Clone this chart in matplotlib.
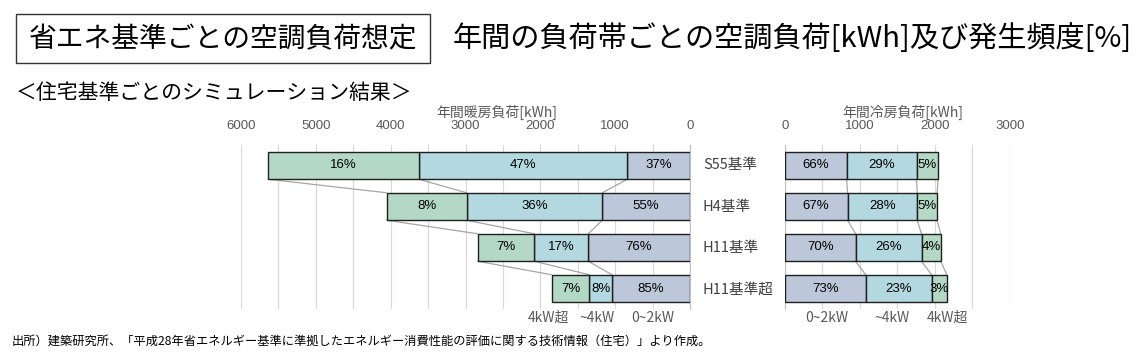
import numpy as np
import matplotlib
matplotlib.use('Agg')
import matplotlib.pyplot as plt
from matplotlib.patches import Rectangle

plt.rcParams['font.family'] = ['Noto Sans CJK JP', 'DejaVu Sans']

# data (kWh per load band, and frequency %)
categories = ['S55基準', 'H4基準', 'H11基準', 'H11基準超']
bands = ['0~2kW', '~4kW', '4kW超']

heat_low = [838, 1172, 1360, 1043]
heat_mid = [2785, 1813, 721, 303]
heat_high = [2015, 1070, 757, 503]
heat_pct_low = [37, 55, 76, 85]
heat_pct_mid = [47, 36, 17, 8]
heat_pct_high = [16, 8, 7, 7]

cool_low = [824, 838, 944, 1077]
cool_mid = [931, 926, 878, 878]
cool_high = [288, 265, 256, 203]
cool_pct_low = [66, 67, 70, 73]
cool_pct_mid = [29, 28, 26, 23]
cool_pct_high = [5, 5, 4, 3]

heat_ticks = [0, 1000, 2000, 3000, 4000, 5000, 6000]
cool_ticks = [0, 1000, 2000, 3000]

# colours
C_LOW = '#BCC8D9'
C_MID = '#B4D8E0'
C_HIGH = '#B3D8C6'
EDGE = '#1F1F1F'
GRID = '#D9D9D9'
LINK = '#A6A6A6'
TXT = '#595959'
W, H = 1145, 364
BAR_H = 0.67


def fx(px):
    return px / W


def fy(py):
    return 1 - py / H


def draw_panel(ax, series, pcts, colors, xmax, ticks):
    y = np.arange(len(categories))
    left = np.zeros(len(categories))
    bounds = []
    for vals, pc, col in zip(series, pcts, colors):
        vals = np.array(vals, dtype=float)
        ax.barh(y, vals, left=left, height=BAR_H, color=col,
                edgecolor=EDGE, linewidth=1.0, zorder=3)
        for yi, l, v, p in zip(y, left, vals, pc):
            ax.text(l + v / 2, yi, f'{p}%', ha='center', va='center',
                    fontsize=9.5, color='black', zorder=4,
                    family=['Liberation Sans Narrow', 'Liberation Sans', 'DejaVu Sans'])
        left = left + vals
        bounds.append(left.copy())
    # series lines between consecutive bars
    for b in bounds:
        for i in range(len(categories) - 1):
            ax.plot([b[i], b[i + 1]], [i + BAR_H / 2, i + 1 - BAR_H / 2],
                    color=LINK, linewidth=0.9, zorder=2)
    ax.set_ylim(len(categories) - 0.5, -0.5)
    ax.set_yticks([])
    ax.set_xticks(ticks)
    ax.set_xticks(np.arange(0, xmax + 1, 500), minor=True)
    ax.set_xticklabels([str(t) for t in ticks], fontsize=9.5, color=TXT,
                       family=['Liberation Sans', 'DejaVu Sans'])
    ax.xaxis.tick_top()
    ax.tick_params(axis='x', which='both', length=0, pad=9)
    ax.grid(axis='x', which='both', color=GRID, linewidth=0.9, zorder=0)
    ax.set_axisbelow(True)
    for s in ax.spines.values():
        s.set_visible(False)


fig = plt.figure(figsize=(W / 100, H / 100), dpi=100, facecolor='white')

ax_h = fig.add_axes([fx(241), fy(309), fx(690 - 241), (309 - 145) / H])
draw_panel(ax_h, [heat_low, heat_mid, heat_high],
           [heat_pct_low, heat_pct_mid, heat_pct_high],
           [C_LOW, C_MID, C_HIGH], 6000, heat_ticks)
ax_h.set_xlim(6000, 0)
ax_h.spines['right'].set_visible(True)
ax_h.spines['right'].set_color('#BFBFBF')

ax_c = fig.add_axes([fx(784.7), fy(309), fx(1010 - 784.7), (309 - 145) / H])
draw_panel(ax_c, [cool_low, cool_mid, cool_high],
           [cool_pct_low, cool_pct_mid, cool_pct_high],
           [C_LOW, C_MID, C_HIGH], 3000, cool_ticks)
ax_c.set_xlim(0, 3000)
ax_c.spines['left'].set_visible(True)
ax_c.spines['left'].set_color('#BFBFBF')

# category labels between panels
for i, c in enumerate(categories):
    fig.text(fx(703), fy(165.5 + 41.2 * i), c, ha='left', va='center',
             fontsize=10.5, color='#404040')

# axis titles
fig.text(fx(497), fy(112), '年間暖房負荷[kWh]', ha='center', va='center',
         fontsize=10, color=TXT)
fig.text(fx(903), fy(112), '年間冷房負荷[kWh]', ha='center', va='center',
         fontsize=10, color=TXT)

# band labels below
for px, lab in zip([653, 597, 548], bands):
    fig.text(fx(px), fy(318), lab, ha='center', va='center', fontsize=10, color=TXT)
for px, lab in zip([827, 892, 947], bands):
    fig.text(fx(px), fy(318), lab, ha='center', va='center', fontsize=10, color=TXT)

# titles
fig.patches.append(Rectangle((fx(16), fy(63)), fx(430 - 16), (63 - 14) / H,
                             transform=fig.transFigure, fill=False,
                             edgecolor='#333333', linewidth=1.0))
fig.text(fx(223), fy(39), '省エネ基準ごとの空調負荷想定', ha='center', va='center',
         fontsize=20, color='black')
fig.text(fx(453), fy(39), '年間の負荷帯ごとの空調負荷[kWh]及び発生頻度[%]',
         ha='left', va='center', fontsize=21, color='black')
fig.text(fx(16), fy(93), '＜住宅基準ごとのシミュレーション結果＞', ha='left',
         va='center', fontsize=15, color='black')

fig.text(fx(12), fy(341),
         '出所）建築研究所、「平成28年省エネルギー基準に準拠したエネルギー消費性能の評価に関する技術情報（住宅）」より作成。',
         ha='left', va='center', fontsize=8.8, color='black')

fig.savefig('out.png', dpi=100, facecolor='white')
